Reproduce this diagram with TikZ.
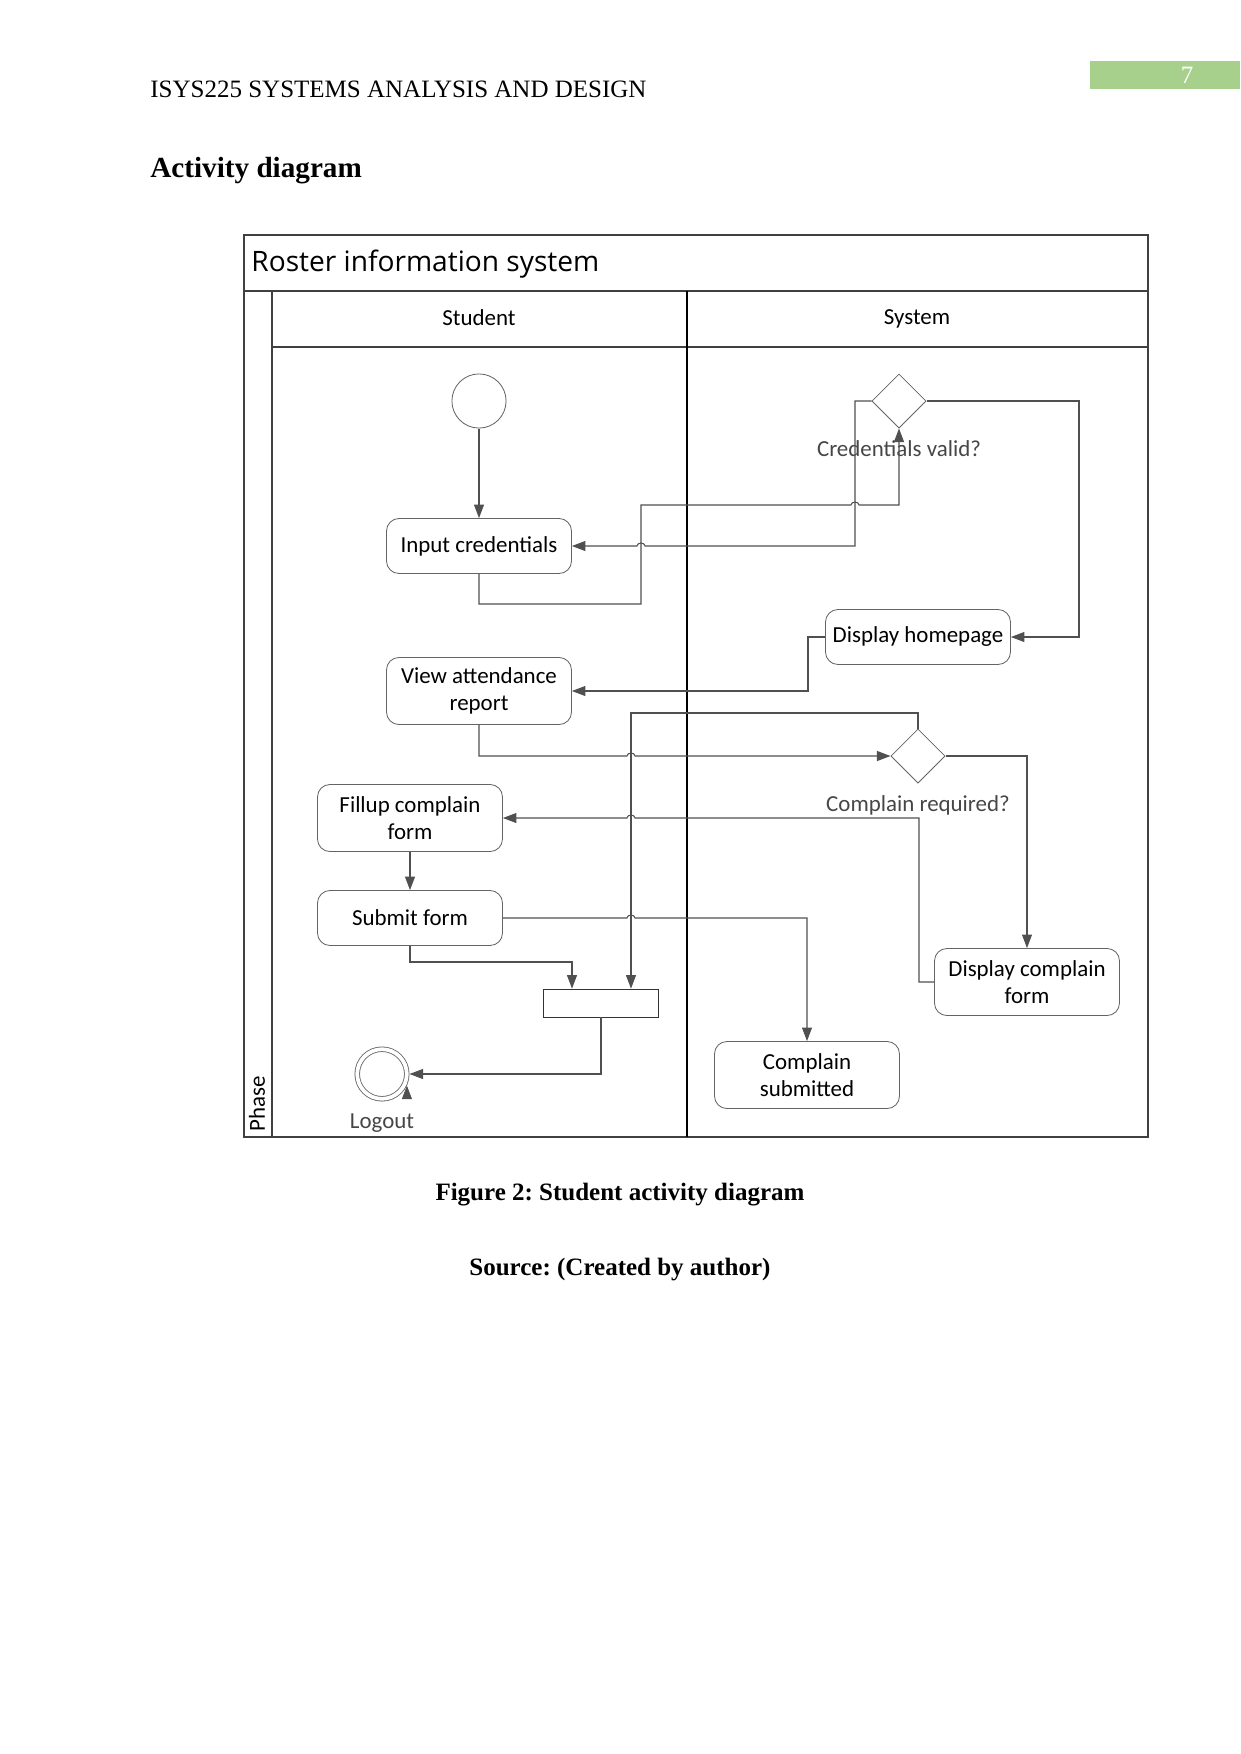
\documentclass[tikz,border=0pt]{standalone}
\usepackage{fontspec}
\setmainfont{Liberation Serif}
\newfontfamily\diagfont{Carlito}
\newfontfamily\swimfont{Open Sans}
\usepackage{xcolor}
\usepackage{tikz}
\usetikzlibrary{shapes.geometric,arrows.meta,positioning,calc}
\frenchspacing

\definecolor{pagegreen}{RGB}{168,208,141}
\definecolor{linegray}{RGB}{80,80,80}
\definecolor{boxgray}{RGB}{100,100,100}
\definecolor{labelgray}{RGB}{70,70,70}

\begin{document}
\begin{tikzpicture}[
    x=0.48pt, y=-0.48pt,
    action/.style={rectangle, draw=boxgray, rounded corners=6pt, minimum width=88.8pt, minimum height=26.4pt, align=center, inner sep=1pt, font=\diagfont\fontsize{11}{13}\selectfont},
    tallaction/.style={action, minimum height=32.2pt},
    decision/.style={diamond, draw=boxgray, minimum width=26pt, minimum height=26pt, inner sep=0pt},
    startdot/.style={circle, draw=boxgray, minimum size=26pt, inner sep=0pt},
    enddot/.style={circle, draw=boxgray, double, double distance=1.8pt, minimum size=23.8pt, inner sep=0pt, outer sep=1.3pt},
    forkbar/.style={rectangle, draw=black!80, minimum width=55.2pt, minimum height=13.4pt, inner sep=0pt},
    arrow/.style={-{Triangle[length=6.5pt,width=4.8pt]}, draw=linegray, line width=0.5pt},
    guard/.style={font=\diagfont\fontsize{11}{13}\selectfont, text=labelgray, inner sep=0pt},
    lanetext/.style={font=\diagfont\fontsize{11}{13}\selectfont, inner sep=0pt},
    lane/.style={draw=black!75, line width=0.6pt},
]
\useasboundingbox (0,0) rectangle (1241,1754);

% === PAGE ===
\node[anchor=base west, inner sep=0pt, font=\fontsize{12}{14}\selectfont] (header) at (150,97) {ISYS225 SYSTEMS ANALYSIS AND DESIGN};
\node[fill=pagegreen, minimum width=72pt, minimum height=13.4pt, inner sep=0pt] (pagebox) at (1165,75) {};
\node[text=white, inner sep=0pt, font=\fontsize{12}{14}\selectfont] (pagenum) at (1187,75) {7};
\node[anchor=base west, inner sep=0pt, font=\bfseries\fontsize{14}{16}\selectfont] (heading) at (150,177) {Activity diagram};

% === SWIMLANES ===
\draw[lane] (244,235) rectangle (1148,1137);
\draw[lane] (244,291) -- (1148,291);
\draw[lane] (272,291) -- (272,1137);
\draw[lane] (272,347) -- (1148,347);
\draw[lane, draw=black, line width=0.9pt] (687,291) -- (687,1137);

\node[anchor=west, inner sep=0pt, font=\swimfont\fontsize{13.5}{15}\selectfont] (title) at (251,264) {Roster information system};
\node[lanetext] (student) at (479,318) {Student};
\node[lanetext] (system) at (917,319) {System};
\node[lanetext, rotate=90] (phase) at (257,1104) {Phase};

% === NODES ===
\node[startdot] (start) at (479,401) {};
\node[action] (input) at (479,546) {Input credentials};
\node[decision] (cred) at (899,401) {};
\node[guard, below=2mm of cred] (credlabel) {Credentials valid?};
\node[action] (home) at (918,637) {Display homepage};
\node[tallaction] (view) at (479,691) {View attendance\\report};
\node[decision] (need) at (918,756) {};
\node[guard, below=2mm of need] (needlabel) {Complain required?};
\node[tallaction] (fill) at (410,818) {Fillup complain\\form};
\node[action] (submit) at (410,918) {Submit form};
\node[tallaction] (showform) at (1027,982) {Display complain\\form};
\node[tallaction] (done) at (807,1075) {Complain\\submitted};
\node[forkbar] (join) at (601,1003) {};
\node[enddot] (logout) at (382,1074) {};
\node[guard, below=2mm of logout] (logoutlabel) {Logout};

% === FLOWS ===
\draw[arrow] (start) -- (input);
\draw[arrow] (input.south) -- (479,604) -- (641,604) -- (641,505) -- (851,505) arc (180:360:4 and 3) -| (cred.south);
\draw[arrow] (cred.west) -| (855,546) -- (645,546) arc (0:-180:4 and 3) -- (input.east);
\draw[arrow] (cred.east) -- (1079,401) |- (home.east);
\draw[arrow] (home.west) -- (808,637) |- (view.east);

\draw[arrow] (view.south) |- (627,756) arc (180:360:4 and 3) -- (need.west);
\draw[arrow] (need.north) |- (631,713) -- (join.north -| 631,713);
\draw[arrow] (need.east) -| (showform.north);
\draw[arrow] (showform.west) -- (919,982) |- (635,818) arc (0:-180:4 and 3) -- (fill.east);
\draw[arrow] (fill) -- (submit);
\draw[arrow] (submit.east) -- (627,918) arc (180:360:4 and 3) -| (done.north);
\draw[arrow] (submit.south) |- (572,962) -- (join.north -| 572,962);
\draw[arrow] (join.south) |- (logout.east);
\draw[arrow] ([yshift=-1.5pt]logout.-25) -- (logout.-25);

% === CAPTION ===
\node[font=\bfseries\fontsize{12}{14}\selectfont] (caption) at (620,1195) {Figure 2: Student activity diagram};
\node[font=\bfseries\fontsize{12}{14}\selectfont] (source) at (620,1270) {Source: (Created by author)};

\end{tikzpicture}
\end{document}
